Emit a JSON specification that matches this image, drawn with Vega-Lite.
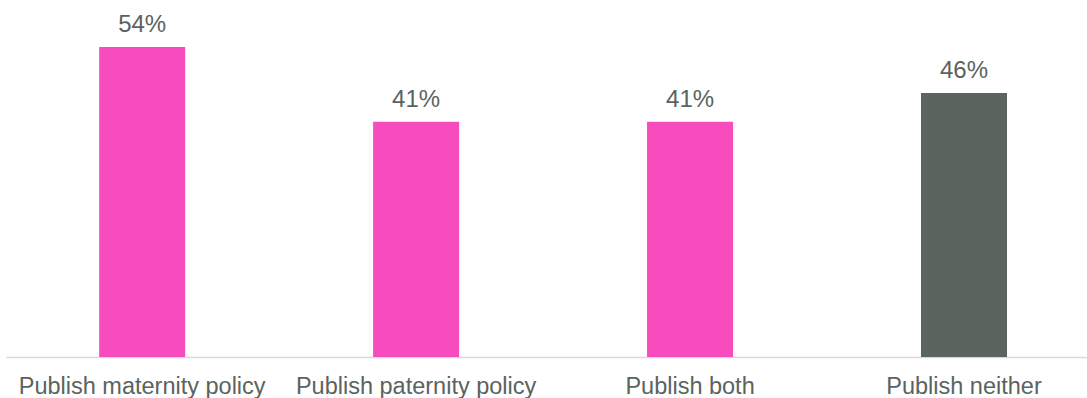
{
  "$schema": "https://vega.github.io/schema/vega-lite/v6.json",
  "width": 1081,
  "height": 357,
  "autosize": {"type": "none"},
  "padding": {"left": 6, "top": 0, "right": 0, "bottom": 41},
  "background": "white",
  "config": {"view": {"stroke": null}, "font": "Liberation Sans"},
  "data": {
    "values": [
      {"category": "Publish maternity policy", "value": 54, "label": "54%", "group": "pink"},
      {"category": "Publish paternity policy", "value": 41, "label": "41%", "group": "pink"},
      {"category": "Publish both", "value": 41, "label": "41%", "group": "pink"},
      {"category": "Publish neither", "value": 46, "label": "46%", "group": "gray"}
    ]
  },
  "encoding": {
    "x": {
      "field": "category",
      "type": "nominal",
      "sort": null,
      "scale": {"paddingInner": 0.686, "paddingOuter": 0.316, "align": 0.538},
      "axis": {
        "title": null,
        "labelAngle": 0,
        "ticks": false,
        "grid": false,
        "domainColor": "#D9D9D9",
        "domainWidth": 1.5,
        "labelFontSize": 23.5,
        "labelColor": "#5B6360",
        "labelPadding": 36,
        "labelBaseline": "alphabetic",
        "labelLimit": 0,
        "labelOverlap": false,
        "labelFont": "Liberation Sans"
      }
    },
    "y": {
      "field": "value",
      "type": "quantitative",
      "scale": {"domain": [0, 62.2], "nice": false},
      "axis": null
    }
  },
  "layer": [
    {
      "mark": {"type": "bar"},
      "encoding": {
        "color": {
          "field": "group",
          "type": "nominal",
          "scale": {"domain": ["pink", "gray"], "range": ["#F84CBE", "#5B6560"]},
          "legend": null
        }
      }
    },
    {
      "mark": {"type": "text", "baseline": "alphabetic", "dy": -15, "fontSize": 24, "color": "#5B6360", "font": "Liberation Sans"},
      "encoding": {"text": {"field": "label"}}
    }
  ]
}
